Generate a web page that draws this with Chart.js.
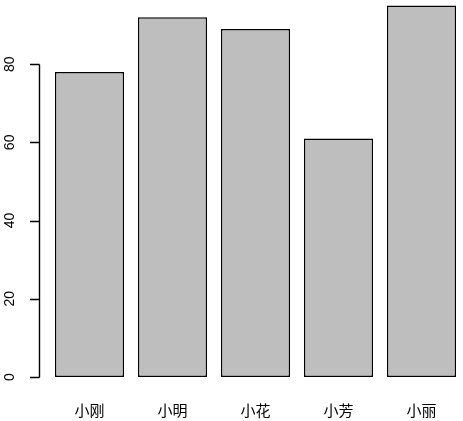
<!DOCTYPE html>
<html lang="zh">
<head>
    <meta charset="UTF-8">
    <title>barplot</title>
    <script src="https://cdn.jsdelivr.net/npm/chart.js"></script>
    <style>
        body { margin: 0; background: #fff; }
        canvas { display: block; }
    </style>
</head>
<body>
    <canvas id="scoreChart" width="463" height="421"></canvas>
    <script>
        // values
        const names = ['小刚', '小明', '小花', '小芳', '小丽'];
        const scores = [78, 92, 89, 61, 95];
        const yTicks = [0, 20, 40, 60, 80];

        // R style left axis: line only from first to last tick, rotated labels
        const rAxis = {
            id: 'rAxis',
            afterDraw(chart) {
                const y = chart.scales.y;
                const ctx = chart.ctx;
                const axisX = 39.5;
                ctx.save();
                ctx.strokeStyle = '#000';
                ctx.lineWidth = 1.4;
                ctx.beginPath();
                ctx.moveTo(axisX, Math.round(y.getPixelForValue(yTicks[0])) + 0.5);
                ctx.lineTo(axisX, Math.round(y.getPixelForValue(yTicks[yTicks.length - 1])) + 0.5);
                yTicks.forEach(v => {
                    const py = Math.round(y.getPixelForValue(v)) + 0.5;
                    ctx.moveTo(axisX, py);
                    ctx.lineTo(30, py);
                });
                ctx.stroke();

                ctx.fillStyle = '#000';
                ctx.font = '14px "Liberation Sans", Arial, sans-serif';
                ctx.textAlign = 'center';
                ctx.textBaseline = 'alphabetic';
                yTicks.forEach(v => {
                    ctx.save();
                    ctx.translate(14, y.getPixelForValue(v));
                    ctx.rotate(-Math.PI / 2);
                    ctx.fillText(String(v), 0, 0);
                    ctx.restore();
                });
                ctx.restore();
            }
        };

        const ctx = document.getElementById('scoreChart').getContext('2d');
        new Chart(ctx, {
            type: 'bar',
            data: {
                labels: names,
                datasets: [{
                    data: scores,
                    backgroundColor: '#bebebe',
                    borderColor: '#000',
                    borderWidth: 1.5,
                    borderSkipped: false,
                    categoryPercentage: 1,
                    barPercentage: 1 / 1.2
                }]
            },
            options: {
                responsive: false,
                devicePixelRatio: 1,
                animation: false,
                layout: { padding: { left: 48, right: 0, top: 0, bottom: 0 } },
                plugins: {
                    legend: { display: false },
                    tooltip: { enabled: false }
                },
                scales: {
                    x: {
                        grid: { display: false, drawTicks: false },
                        border: { display: false },
                        ticks: {
                            color: '#000',
                            padding: 24,
                            font: { family: '"Noto Sans CJK SC", sans-serif', size: 15 }
                        },
                        afterFit(scale) { scale.height = 44; }
                    },
                    y: {
                        display: false,
                        min: 0,
                        max: 96.4
                    }
                }
            },
            plugins: [rAxis]
        });
    </script>
</body>
</html>
